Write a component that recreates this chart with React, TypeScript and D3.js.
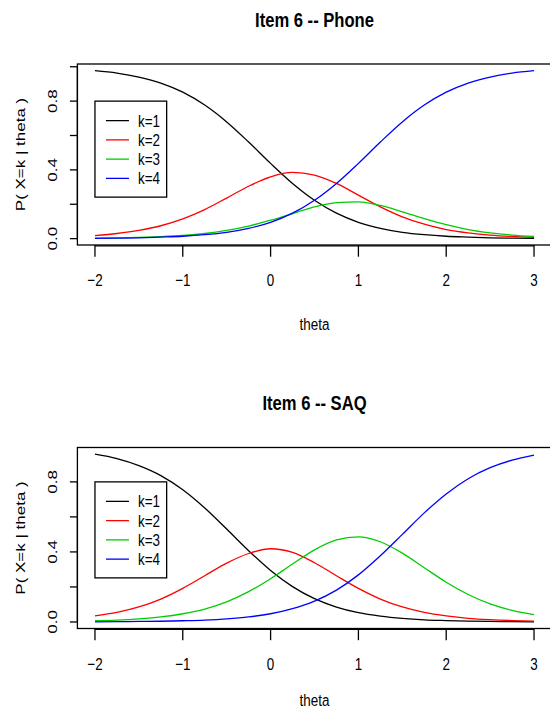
import React from 'react';
import * as d3 from 'd3';

// ability grid (x values shared by every curve)
const theta = [-2, -1.75, -1.5, -1.25, -1, -0.75, -0.5, -0.25, 0, 0.25, 0.5, 0.75, 1, 1.25, 1.5, 1.75, 2, 2.25, 2.5, 2.75, 3];

// Item 6 -- Phone
const phoneK1 = [0.977, 0.963, 0.94, 0.905, 0.852, 0.777, 0.679, 0.562, 0.438, 0.321, 0.223, 0.148, 0.095, 0.06, 0.037, 0.023, 0.014, 0.009, 0.005, 0.003, 0.002];
const phoneK2 = [0.018, 0.03, 0.048, 0.075, 0.115, 0.169, 0.236, 0.305, 0.36, 0.385, 0.37, 0.321, 0.253, 0.185, 0.127, 0.084, 0.053, 0.034, 0.021, 0.013, 0.008];
const phoneK3 = [0.003, 0.004, 0.007, 0.012, 0.019, 0.03, 0.048, 0.073, 0.107, 0.146, 0.185, 0.21, 0.214, 0.193, 0.156, 0.116, 0.081, 0.053, 0.034, 0.021, 0.013];
const phoneK4 = [0.002, 0.003, 0.005, 0.009, 0.014, 0.023, 0.037, 0.06, 0.095, 0.148, 0.223, 0.321, 0.438, 0.562, 0.679, 0.777, 0.852, 0.905, 0.94, 0.963, 0.977];

// Item 6 -- SAQ
const saqK1 = [0.958, 0.933, 0.893, 0.836, 0.755, 0.651, 0.531, 0.407, 0.294, 0.202, 0.133, 0.085, 0.053, 0.033, 0.02, 0.012, 0.008, 0.005, 0.003, 0.002, 0.001];
const saqK2 = [0.035, 0.055, 0.086, 0.131, 0.192, 0.264, 0.336, 0.391, 0.418, 0.397, 0.338, 0.264, 0.192, 0.131, 0.086, 0.055, 0.035, 0.021, 0.013, 0.008, 0.005];
const saqK3 = [0.007, 0.011, 0.018, 0.029, 0.047, 0.074, 0.115, 0.173, 0.247, 0.331, 0.412, 0.469, 0.486, 0.458, 0.393, 0.31, 0.227, 0.157, 0.103, 0.066, 0.042];
const saqK4 = [0.001, 0.002, 0.003, 0.004, 0.007, 0.011, 0.018, 0.029, 0.047, 0.076, 0.119, 0.182, 0.269, 0.378, 0.5, 0.623, 0.731, 0.818, 0.881, 0.924, 0.953];

const titles = ['Item 6 -- Phone', 'Item 6 -- SAQ'];
const kLabels = ['k=1', 'k=2', 'k=3', 'k=4'];
const colors = ['#000000', '#FF0000', '#00CD00', '#0000FF'];
const xTicks = [-2, -1, 0, 1, 2, 3];
const yTicks = [0, 0.2, 0.4, 0.6, 0.8, 1.0];
const yLabelled = [0, 0.4, 0.8];
const xLabel = 'theta';
const yLabel = 'P( X=k | theta )';

const FONT = '"Liberation Sans", Arial, Helvetica, sans-serif';
const SX = 0.79; // the picture is squeezed sideways

function Panel({ title, series, dy }: { title: string; series: number[][]; dy: number }) {
  const top = 64 + dy;
  const bottom = 245 + dy;
  const left = 77.4;
  const right = 551.6;

  const [x0, x1] = d3.extent(theta) as [number, number];
  const xPad = (x1 - x0) * 0.04;
  const xScale = d3.scaleLinear().domain([x0 - xPad, x1 + xPad]).range([left, right]);

  const all = series.flat();
  const [y0, y1] = d3.extent(all) as [number, number];
  const yPad = (y1 - y0) * 0.04;
  const yScale = d3.scaleLinear().domain([y0 - yPad, y1 + yPad]).range([bottom, top]);
  const ticksIn = yTicks.filter(t => t >= yScale.domain()[0] && t <= yScale.domain()[1]);

  const line = d3.line<number>()
    .x((_, i) => xScale(theta[i]))
    .y(d => yScale(d))
    .curve(d3.curveMonotoneX);

  const midX = (left + right) / 2;
  const midY = (top + bottom) / 2;
  const fmt = (v: number) => (v < 0 ? '\u2212' + Math.abs(v) : String(v));

  const lgX = xScale(-2);
  const lgY = yScale(0.8);

  return (
    <g fontFamily={FONT} fill="#000">
      <text transform={`translate(${midX},${26.5 + dy}) scale(${SX},1)`} textAnchor="middle" fontSize={21} fontWeight="bold">{title}</text>

      {series.map((s, i) => (
        <path key={i} d={line(s) || ''} fill="none" stroke={colors[i]} strokeWidth={1.3} />
      ))}

      <rect x={left} y={top} width={right - left} height={bottom - top} fill="none" stroke="#000" strokeWidth={1.3} />

      {/* x axis */}
      <line x1={xScale(xTicks[0])} x2={xScale(xTicks[xTicks.length - 1])} y1={bottom + 0.8} y2={bottom + 0.8} stroke="#000" strokeWidth={1.3} />
      {xTicks.map(t => (
        <g key={t}>
          <line x1={xScale(t)} x2={xScale(t)} y1={bottom} y2={bottom + 11.7} stroke="#000" strokeWidth={1.3} />
          <text transform={`translate(${xScale(t)},${bottom + 41}) scale(${SX},1)`} textAnchor="middle" fontSize={17}>{fmt(t)}</text>
        </g>
      ))}
      <text transform={`translate(${midX},${Math.min(bottom + 85, 706)}) scale(${SX},1)`} textAnchor="middle" fontSize={17}>{xLabel}</text>

      {/* y axis */}
      <line x1={left} x2={left} y1={yScale(ticksIn[0])} y2={yScale(ticksIn[ticksIn.length - 1])} stroke="#000" strokeWidth={1.3} />
      {ticksIn.map(t => (
        <line key={t} x1={left} x2={left - 7.5} y1={yScale(t)} y2={yScale(t)} stroke="#000" strokeWidth={1.3} />
      ))}
      {yLabelled.map(t => (
        <text key={t} transform={`translate(57.3,${yScale(t)}) scale(${SX},1) rotate(-90)`} textAnchor="middle" fontSize={17}>{t.toFixed(1)}</text>
      ))}
      <text transform={`translate(24.5,${midY}) scale(${SX},1) rotate(-90)`} textAnchor="middle" fontSize={17}>{yLabel}</text>

      {/* legend */}
      <rect x={lgX} y={lgY} width={71.7} height={96} fill="#fff" stroke="#000" strokeWidth={1.3} />
      {kLabels.map((k, i) => {
        const ry = lgY + 19.5 + i * 19.25;
        return (
          <g key={k}>
            <line x1={lgX + 11} x2={lgX + 34} y1={ry} y2={ry} stroke={colors[i]} strokeWidth={1.3} />
            <text transform={`translate(${lgX + 43},${ry + 6}) scale(${SX},1)`} fontSize={17}>{k}</text>
          </g>
        );
      })}
    </g>
  );
}

export default function App() {
  return (
    <svg width={550} height={712} style={{ position: 'absolute', left: 0, top: 0, background: '#fff' }}>
      <rect width={550} height={712} fill="#fff" />
      <Panel title={titles[0]} series={[phoneK1, phoneK2, phoneK3, phoneK4]} dy={0} />
      <Panel title={titles[1]} series={[saqK1, saqK2, saqK3, saqK4]} dy={383.5} />
    </svg>
  );
}
